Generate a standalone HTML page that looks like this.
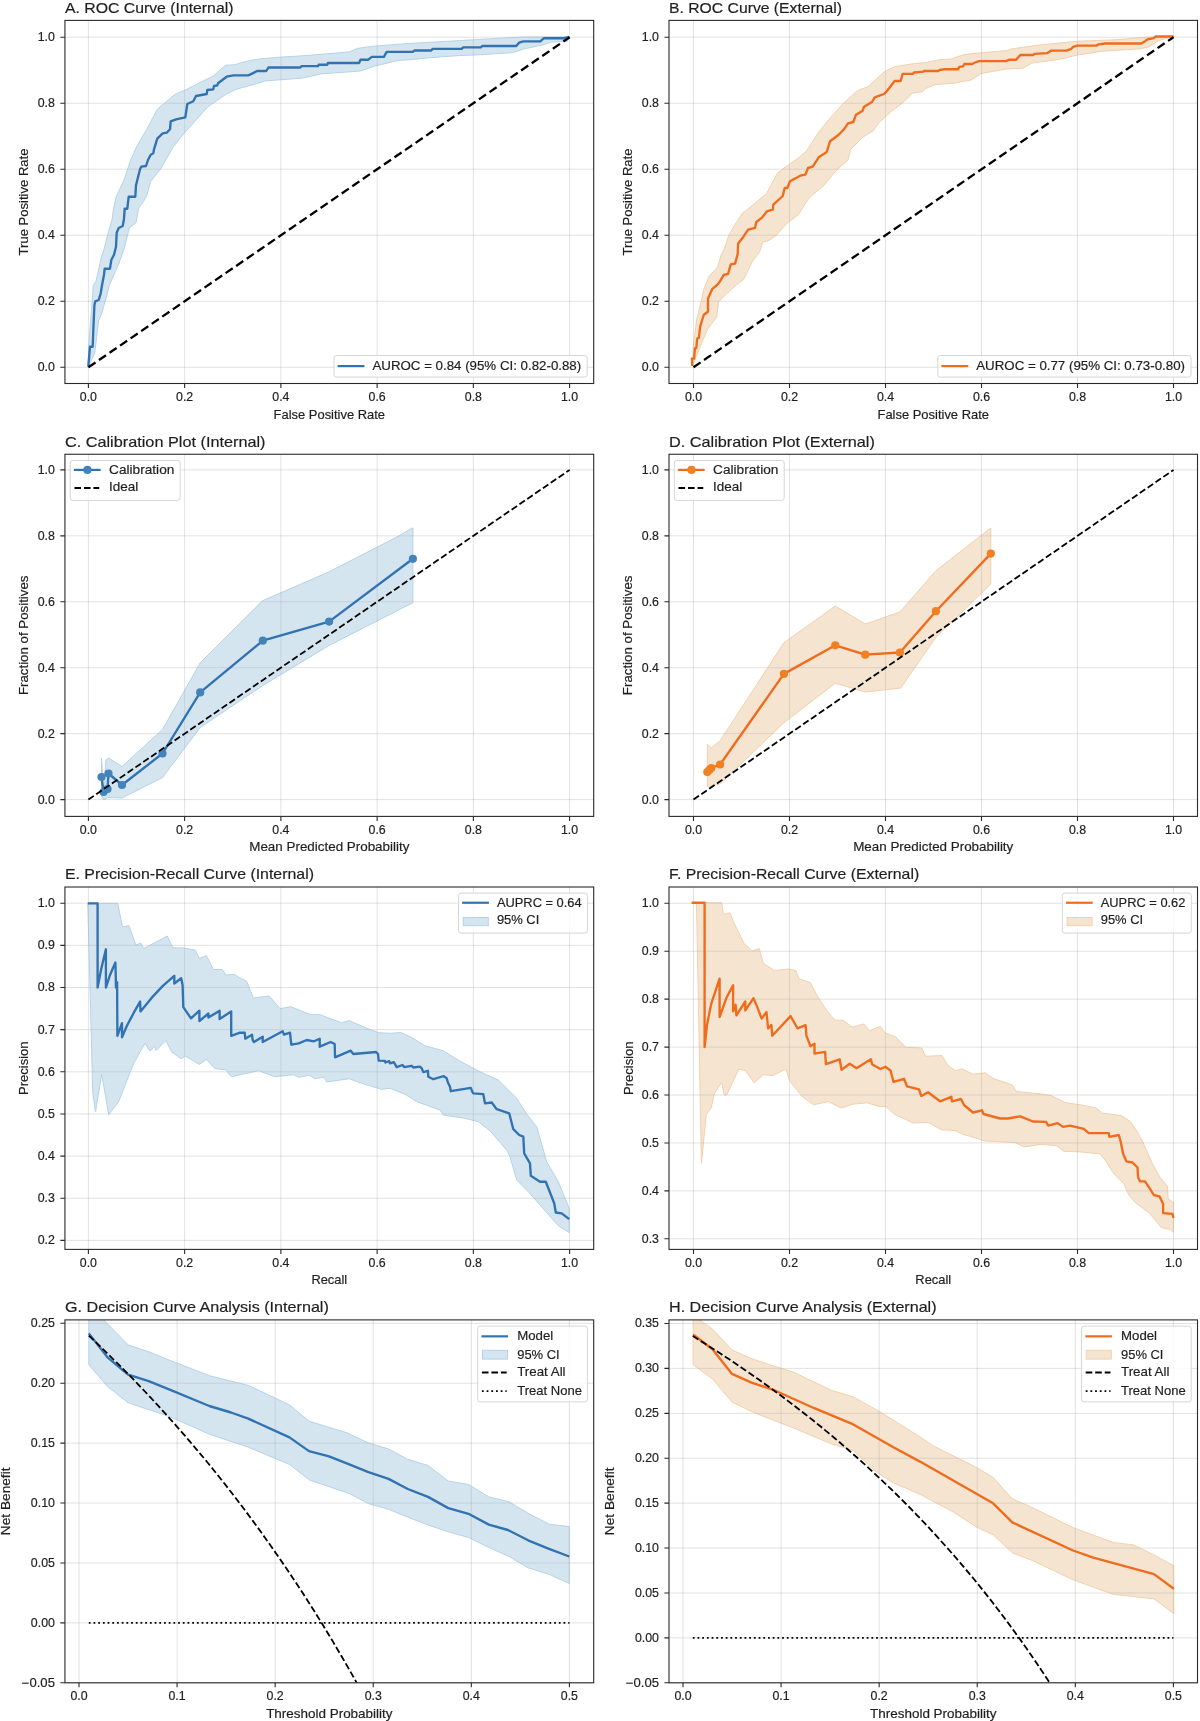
<!DOCTYPE html><html><head><meta charset="utf-8"><style>html,body{margin:0;padding:0;background:#fff;}svg{display:block;will-change:transform;}</style></head><body><svg width="1200" height="1721" viewBox="0 0 1200 1721" font-family="&quot;Liberation Sans&quot;, sans-serif">
<rect width="1200" height="1721" fill="#ffffff"/>
<clipPath id="cA"><rect x="64.94" y="20.4" width="528.76" height="363.1"/></clipPath>
<path d="M88.3,366.7L88.7,346.7L93.3,285.3L96.0,281.3L101.3,257.3L104.0,249.3L108.7,230.7L112.0,220.0L113.3,210.0L116.0,197.3L124.0,180.0L130.7,160.0L137.3,145.3L146.7,129.3L157.3,109.3L166.7,101.3L174.7,94.7L186.7,89.3L197.3,84.0L213.3,76.0L225.3,65.3L234.7,64.7L249.3,60.7L258.5,59.0L278.3,57.3L306.7,55.5L349.2,51.9L357.6,48.4L373.2,46.2L391.6,44.8L410.0,43.4L459.6,40.6L495.0,38.5L523.3,37.0L569.3,36.8L569.3,37.0L567.2,41.3L551.6,42.0L543.1,44.8L523.3,49.1L513.4,52.6L480.8,54.7L459.6,55.5L431.2,57.6L410.0,59.7L398.7,60.4L374.6,66.1L360.5,71.0L320.8,73.9L302.4,78.1L264.2,81.0L260.0,82.7L236.0,89.3L225.3,94.7L208.0,106.7L196.0,120.0L185.3,132.0L173.3,146.7L161.3,168.0L150.7,181.3L146.7,196.0L142.7,202.7L138.7,208.0L136.0,222.7L129.3,228.0L124.0,249.3L118.7,264.0L109.3,285.3L106.7,296.0L101.3,314.7L98.7,320.0L94.7,353.3L88.3,366.7Z" fill="#d4e5f0" stroke="#b4d3e8" stroke-width="1" stroke-linejoin="round" clip-path="url(#cA)"/>
<path d="M88.40,20.40V383.50M184.64,20.40V383.50M280.88,20.40V383.50M377.12,20.40V383.50M473.36,20.40V383.50M569.60,20.40V383.50M64.94,367.30H593.70M64.94,301.28H593.70M64.94,235.26H593.70M64.94,169.24H593.70M64.94,103.22H593.70M64.94,37.20H593.70" stroke="#b0b0b0" stroke-opacity="0.36" stroke-width="1" fill="none"/>
<path d="M88.3,366.7L90.0,346.7L92.7,346.7L93.3,330.7L94.4,305.3L95.3,301.3L98.7,300.0L100.7,293.3L102.0,285.3L104.0,274.7L104.7,268.7L110.0,268.7L111.3,260.0L114.0,254.7L116.0,246.7L116.7,232.7L118.7,228.0L122.7,226.0L124.0,218.7L124.7,208.7L127.3,208.7L128.7,196.7L135.3,196.7L136.0,185.3L140.0,169.3L141.3,166.7L146.0,166.0L148.0,160.0L150.7,154.7L153.3,153.3L154.0,149.3L157.3,138.7L162.7,133.3L166.7,132.7L170.0,129.3L170.7,121.3L176.0,119.3L185.3,117.3L187.3,104.0L193.3,101.3L196.0,96.0L206.7,94.0L207.3,90.0L213.3,89.3L214.0,86.0L217.3,85.3L218.0,83.3L226.7,76.7L233.3,75.3L248.0,75.3L250.0,74.6L257.1,71.0L266.3,71.0L268.4,67.5L300.3,67.5L301.7,66.1L318.0,66.1L318.7,64.7L327.2,64.7L327.9,63.0L359.1,63.0L360.5,59.7L368.3,59.7L371.8,56.9L383.9,56.9L386.7,51.9L412.9,51.9L414.3,50.5L431.2,50.5L432.7,48.8L461.7,48.8L463.1,47.4L480.8,47.4L482.2,46.0L516.2,46.0L519.1,42.7L523.3,41.3L540.3,41.3L543.9,38.2L564.4,38.2L569.3,37.0" fill="none" stroke="#3172b2" stroke-width="2.35" stroke-linejoin="round" clip-path="url(#cA)"/>
<path d="M88.4,367.3L569.6,37.2" fill="none" stroke="#000" stroke-width="2.3" stroke-linejoin="round" stroke-dasharray="8.6 4.2" clip-path="url(#cA)"/>
<rect x="64.94" y="20.40" width="528.76" height="363.10" fill="none" stroke="#2a2a2a" stroke-width="1.1"/>
<path d="M88.40,383.50V388.00M184.64,383.50V388.00M280.88,383.50V388.00M377.12,383.50V388.00M473.36,383.50V388.00M569.60,383.50V388.00M64.94,367.30H60.34M64.94,301.28H60.34M64.94,235.26H60.34M64.94,169.24H60.34M64.94,103.22H60.34M64.94,37.20H60.34" stroke="#2a2a2a" stroke-width="1.1" fill="none"/>
<text x="88.40" y="401.10" font-size="11.9" text-anchor="middle" textLength="17.18" lengthAdjust="spacingAndGlyphs" fill="#1f1f1f" stroke="#1f1f1f" stroke-width="0.18">0.0</text>
<text x="184.64" y="401.10" font-size="11.9" text-anchor="middle" textLength="17.18" lengthAdjust="spacingAndGlyphs" fill="#1f1f1f" stroke="#1f1f1f" stroke-width="0.18">0.2</text>
<text x="280.88" y="401.10" font-size="11.9" text-anchor="middle" textLength="17.18" lengthAdjust="spacingAndGlyphs" fill="#1f1f1f" stroke="#1f1f1f" stroke-width="0.18">0.4</text>
<text x="377.12" y="401.10" font-size="11.9" text-anchor="middle" textLength="17.18" lengthAdjust="spacingAndGlyphs" fill="#1f1f1f" stroke="#1f1f1f" stroke-width="0.18">0.6</text>
<text x="473.36" y="401.10" font-size="11.9" text-anchor="middle" textLength="17.18" lengthAdjust="spacingAndGlyphs" fill="#1f1f1f" stroke="#1f1f1f" stroke-width="0.18">0.8</text>
<text x="569.60" y="401.10" font-size="11.9" text-anchor="middle" textLength="17.18" lengthAdjust="spacingAndGlyphs" fill="#1f1f1f" stroke="#1f1f1f" stroke-width="0.18">1.0</text>
<text x="54.94" y="371.20" font-size="11.9" text-anchor="end" textLength="17.18" lengthAdjust="spacingAndGlyphs" fill="#1f1f1f" stroke="#1f1f1f" stroke-width="0.18">0.0</text>
<text x="54.94" y="305.18" font-size="11.9" text-anchor="end" textLength="17.18" lengthAdjust="spacingAndGlyphs" fill="#1f1f1f" stroke="#1f1f1f" stroke-width="0.18">0.2</text>
<text x="54.94" y="239.16" font-size="11.9" text-anchor="end" textLength="17.18" lengthAdjust="spacingAndGlyphs" fill="#1f1f1f" stroke="#1f1f1f" stroke-width="0.18">0.4</text>
<text x="54.94" y="173.14" font-size="11.9" text-anchor="end" textLength="17.18" lengthAdjust="spacingAndGlyphs" fill="#1f1f1f" stroke="#1f1f1f" stroke-width="0.18">0.6</text>
<text x="54.94" y="107.12" font-size="11.9" text-anchor="end" textLength="17.18" lengthAdjust="spacingAndGlyphs" fill="#1f1f1f" stroke="#1f1f1f" stroke-width="0.18">0.8</text>
<text x="54.94" y="41.10" font-size="11.9" text-anchor="end" textLength="17.18" lengthAdjust="spacingAndGlyphs" fill="#1f1f1f" stroke="#1f1f1f" stroke-width="0.18">1.0</text>
<text x="329.32" y="418.50" font-size="12.4" text-anchor="middle" textLength="111.53" lengthAdjust="spacingAndGlyphs" fill="#1f1f1f" stroke="#1f1f1f" stroke-width="0.18">False Positive Rate</text>
<text x="27.90" y="201.95" font-size="12.4" text-anchor="middle" textLength="106.90" lengthAdjust="spacingAndGlyphs" fill="#1f1f1f" stroke="#1f1f1f" stroke-width="0.18" transform="rotate(-90 27.90 201.95)">True Positive Rate</text>
<text x="64.94" y="12.80" font-size="14.8" text-anchor="start" textLength="168.52" lengthAdjust="spacingAndGlyphs" fill="#1f1f1f" stroke="#1f1f1f" stroke-width="0.18">A. ROC Curve (Internal)</text>
<rect x="334.03" y="355.50" width="253.17" height="21.60" rx="2.5" fill="#ffffff" fill-opacity="0.8" stroke="#d6d6d6" stroke-width="1"/>
<path d="M337.63,366.10H364.43" stroke="#3172b2" stroke-width="2.2"/>
<text x="372.43" y="369.90" font-size="12.4" text-anchor="start" textLength="208.77" lengthAdjust="spacingAndGlyphs" fill="#1f1f1f" stroke="#1f1f1f" stroke-width="0.18">AUROC = 0.84 (95% CI: 0.82-0.88)</text>
<clipPath id="cB"><rect x="669.0" y="20.4" width="528.5" height="363.1"/></clipPath>
<path d="M692.3,366.0L693.2,346.4L696.7,319.3L701.1,301.9L703.7,289.7L708.9,276.6L717.6,267.1L721.1,254.9L724.6,247.9L729.0,234.8L736.8,221.7L742.3,213.3L746.7,210.0L757.3,201.3L766.7,193.3L777.3,173.3L784.0,168.0L797.3,158.7L806.7,150.7L818.7,132.0L830.7,117.3L844.0,102.7L857.3,90.7L868.0,86.7L884.0,72.0L894.2,66.8L911.2,64.0L925.4,62.5L939.6,59.7L950.9,59.0L963.7,54.7L975.0,53.3L1007.6,50.5L1010.4,49.1L1024.6,47.0L1040.0,45.0L1077.5,41.2L1115.0,39.8L1146.3,37.2L1173.5,36.5L1173.5,36.5L1165.0,38.8L1158.8,40.6L1148.8,46.9L1140.0,48.8L1102.5,51.2L1077.5,55.0L1058.8,59.4L1040.0,61.9L1031.6,63.2L1023.1,68.2L1007.6,68.9L986.3,72.5L980.7,73.9L970.7,80.2L960.8,81.7L955.2,83.1L935.3,84.5L925.4,88.7L922.6,91.6L912.7,93.0L904.2,101.5L890.7,112.0L878.7,122.7L873.3,130.7L862.7,137.3L850.7,149.3L848.0,160.0L836.0,170.7L824.0,185.3L812.0,195.3L807.7,200.0L798.3,214.7L786.3,224.0L775.7,236.0L768.0,240.9L762.9,241.8L759.5,252.2L752.5,261.0L743.8,279.3L736.8,284.5L726.3,294.1L718.5,301.9L716.8,316.7L707.2,329.8L697.6,353.3L692.3,366.0Z" fill="#f5e4d0" stroke="#f2d0ad" stroke-width="1" stroke-linejoin="round" clip-path="url(#cB)"/>
<path d="M693.50,20.40V383.50M789.50,20.40V383.50M885.50,20.40V383.50M981.50,20.40V383.50M1077.50,20.40V383.50M1173.50,20.40V383.50M669.00,367.30H1197.50M669.00,301.28H1197.50M669.00,235.26H1197.50M669.00,169.24H1197.50M669.00,103.22H1197.50M669.00,37.20H1197.50" stroke="#b0b0b0" stroke-opacity="0.36" stroke-width="1" fill="none"/>
<path d="M692.3,366.0L691.9,358.6L694.1,358.6L695.0,348.1L696.3,348.1L697.2,338.5L698.9,337.6L700.2,326.3L703.7,315.0L708.0,311.5L708.0,298.4L712.4,288.8L717.6,284.5L719.4,282.3L723.7,274.9L728.1,274.0L730.7,264.4L735.1,263.6L737.7,254.0L738.1,243.5L742.9,237.4L748.1,229.6L755.1,227.8L756.3,222.0L762.3,217.3L767.0,211.3L773.0,209.3L773.3,204.7L782.7,196.0L784.7,188.0L787.3,188.0L790.0,181.3L796.0,178.0L801.3,175.3L805.3,174.7L808.0,168.0L812.7,166.7L818.7,157.3L826.7,152.0L830.0,141.3L838.7,134.7L844.0,129.3L848.0,123.3L853.3,122.0L856.0,114.7L862.7,110.7L864.0,106.7L872.0,102.0L874.7,97.3L884.0,94.0L886.7,91.3L894.7,81.0L900.6,81.0L902.7,73.9L912.7,73.9L914.1,72.5L923.3,71.7L924.0,71.0L938.2,71.0L939.6,70.0L945.2,69.2L958.0,69.2L959.4,66.8L962.9,66.4L964.4,64.0L972.2,64.0L975.0,62.5L979.2,61.1L1006.1,61.1L1008.9,59.7L1016.1,59.7L1020.3,55.0L1033.1,55.0L1034.5,53.8L1043.0,53.3L1047.5,53.1L1051.3,50.6L1066.3,50.6L1071.3,48.8L1073.1,46.9L1077.5,45.6L1096.3,45.6L1098.8,44.4L1105.0,43.5L1141.3,43.5L1145.0,41.2L1147.5,39.4L1153.8,38.1L1155.6,36.5L1173.5,36.5" fill="none" stroke="#f06b1c" stroke-width="2.35" stroke-linejoin="round" clip-path="url(#cB)"/>
<path d="M693.5,367.3L1173.5,37.2" fill="none" stroke="#000" stroke-width="2.3" stroke-linejoin="round" stroke-dasharray="8.6 4.2" clip-path="url(#cB)"/>
<rect x="669.00" y="20.40" width="528.50" height="363.10" fill="none" stroke="#2a2a2a" stroke-width="1.1"/>
<path d="M693.50,383.50V388.00M789.50,383.50V388.00M885.50,383.50V388.00M981.50,383.50V388.00M1077.50,383.50V388.00M1173.50,383.50V388.00M669.00,367.30H664.40M669.00,301.28H664.40M669.00,235.26H664.40M669.00,169.24H664.40M669.00,103.22H664.40M669.00,37.20H664.40" stroke="#2a2a2a" stroke-width="1.1" fill="none"/>
<text x="693.50" y="401.10" font-size="11.9" text-anchor="middle" textLength="17.18" lengthAdjust="spacingAndGlyphs" fill="#1f1f1f" stroke="#1f1f1f" stroke-width="0.18">0.0</text>
<text x="789.50" y="401.10" font-size="11.9" text-anchor="middle" textLength="17.18" lengthAdjust="spacingAndGlyphs" fill="#1f1f1f" stroke="#1f1f1f" stroke-width="0.18">0.2</text>
<text x="885.50" y="401.10" font-size="11.9" text-anchor="middle" textLength="17.18" lengthAdjust="spacingAndGlyphs" fill="#1f1f1f" stroke="#1f1f1f" stroke-width="0.18">0.4</text>
<text x="981.50" y="401.10" font-size="11.9" text-anchor="middle" textLength="17.18" lengthAdjust="spacingAndGlyphs" fill="#1f1f1f" stroke="#1f1f1f" stroke-width="0.18">0.6</text>
<text x="1077.50" y="401.10" font-size="11.9" text-anchor="middle" textLength="17.18" lengthAdjust="spacingAndGlyphs" fill="#1f1f1f" stroke="#1f1f1f" stroke-width="0.18">0.8</text>
<text x="1173.50" y="401.10" font-size="11.9" text-anchor="middle" textLength="17.18" lengthAdjust="spacingAndGlyphs" fill="#1f1f1f" stroke="#1f1f1f" stroke-width="0.18">1.0</text>
<text x="659.00" y="371.20" font-size="11.9" text-anchor="end" textLength="17.18" lengthAdjust="spacingAndGlyphs" fill="#1f1f1f" stroke="#1f1f1f" stroke-width="0.18">0.0</text>
<text x="659.00" y="305.18" font-size="11.9" text-anchor="end" textLength="17.18" lengthAdjust="spacingAndGlyphs" fill="#1f1f1f" stroke="#1f1f1f" stroke-width="0.18">0.2</text>
<text x="659.00" y="239.16" font-size="11.9" text-anchor="end" textLength="17.18" lengthAdjust="spacingAndGlyphs" fill="#1f1f1f" stroke="#1f1f1f" stroke-width="0.18">0.4</text>
<text x="659.00" y="173.14" font-size="11.9" text-anchor="end" textLength="17.18" lengthAdjust="spacingAndGlyphs" fill="#1f1f1f" stroke="#1f1f1f" stroke-width="0.18">0.6</text>
<text x="659.00" y="107.12" font-size="11.9" text-anchor="end" textLength="17.18" lengthAdjust="spacingAndGlyphs" fill="#1f1f1f" stroke="#1f1f1f" stroke-width="0.18">0.8</text>
<text x="659.00" y="41.10" font-size="11.9" text-anchor="end" textLength="17.18" lengthAdjust="spacingAndGlyphs" fill="#1f1f1f" stroke="#1f1f1f" stroke-width="0.18">1.0</text>
<text x="933.25" y="418.50" font-size="12.4" text-anchor="middle" textLength="111.53" lengthAdjust="spacingAndGlyphs" fill="#1f1f1f" stroke="#1f1f1f" stroke-width="0.18">False Positive Rate</text>
<text x="632.20" y="201.95" font-size="12.4" text-anchor="middle" textLength="106.90" lengthAdjust="spacingAndGlyphs" fill="#1f1f1f" stroke="#1f1f1f" stroke-width="0.18" transform="rotate(-90 632.20 201.95)">True Positive Rate</text>
<text x="669.00" y="12.80" font-size="14.8" text-anchor="start" textLength="173.05" lengthAdjust="spacingAndGlyphs" fill="#1f1f1f" stroke="#1f1f1f" stroke-width="0.18">B. ROC Curve (External)</text>
<rect x="937.83" y="355.50" width="253.17" height="21.60" rx="2.5" fill="#ffffff" fill-opacity="0.8" stroke="#d6d6d6" stroke-width="1"/>
<path d="M941.43,366.10H968.23" stroke="#f06b1c" stroke-width="2.2"/>
<text x="976.23" y="369.90" font-size="12.4" text-anchor="start" textLength="208.77" lengthAdjust="spacingAndGlyphs" fill="#1f1f1f" stroke="#1f1f1f" stroke-width="0.18">AUROC = 0.77 (95% CI: 0.73-0.80)</text>
<clipPath id="cC"><rect x="64.94" y="454.25" width="528.76" height="362.15"/></clipPath>
<path d="M101.5,758.5L103.5,790.0L106.0,760.0L108.5,758.0L122.0,766.5L162.5,729.5L200.2,662.8L262.8,600.6L329.1,571.8L396.7,537.1L412.9,527.8L412.9,602.7L329.1,645.4L262.8,685.5L200.2,727.5L162.5,777.5L122.0,798.0L108.0,797.5L103.8,800.0L101.5,796.0Z" fill="#d4e5f0" stroke="#b4d3e8" stroke-width="1" stroke-linejoin="round" clip-path="url(#cC)"/>
<path d="M88.40,454.25V816.40M184.64,454.25V816.40M280.88,454.25V816.40M377.12,454.25V816.40M473.36,454.25V816.40M569.60,454.25V816.40M64.94,799.60H593.70M64.94,733.66H593.70M64.94,667.72H593.70M64.94,601.78H593.70M64.94,535.84H593.70M64.94,469.90H593.70" stroke="#b0b0b0" stroke-opacity="0.36" stroke-width="1" fill="none"/>
<path d="M101.5,777.0L103.5,792.0L107.5,789.0L108.5,773.5L122.0,785.0L162.5,753.5L200.2,692.4L262.8,640.7L329.1,621.6L412.9,558.8" fill="none" stroke="#3172b2" stroke-width="2.35" stroke-linejoin="round" clip-path="url(#cC)"/>
<circle cx="101.5" cy="777.0" r="4.1" fill="#4383b9"/>
<circle cx="103.5" cy="792.0" r="4.1" fill="#4383b9"/>
<circle cx="107.5" cy="789.0" r="4.1" fill="#4383b9"/>
<circle cx="108.5" cy="773.5" r="4.1" fill="#4383b9"/>
<circle cx="122.0" cy="785.0" r="4.1" fill="#4383b9"/>
<circle cx="162.5" cy="753.5" r="4.1" fill="#4383b9"/>
<circle cx="200.2" cy="692.4" r="4.1" fill="#4383b9"/>
<circle cx="262.8" cy="640.7" r="4.1" fill="#4383b9"/>
<circle cx="329.1" cy="621.6" r="4.1" fill="#4383b9"/>
<circle cx="412.9" cy="558.8" r="4.1" fill="#4383b9"/>
<path d="M88.4,799.6L569.6,469.9" fill="none" stroke="#000" stroke-width="1.8" stroke-linejoin="round" stroke-dasharray="6.6 2.9" clip-path="url(#cC)"/>
<rect x="64.94" y="454.25" width="528.76" height="362.15" fill="none" stroke="#2a2a2a" stroke-width="1.1"/>
<path d="M88.40,816.40V820.90M184.64,816.40V820.90M280.88,816.40V820.90M377.12,816.40V820.90M473.36,816.40V820.90M569.60,816.40V820.90M64.94,799.60H60.34M64.94,733.66H60.34M64.94,667.72H60.34M64.94,601.78H60.34M64.94,535.84H60.34M64.94,469.90H60.34" stroke="#2a2a2a" stroke-width="1.1" fill="none"/>
<text x="88.40" y="834.00" font-size="11.9" text-anchor="middle" textLength="17.18" lengthAdjust="spacingAndGlyphs" fill="#1f1f1f" stroke="#1f1f1f" stroke-width="0.18">0.0</text>
<text x="184.64" y="834.00" font-size="11.9" text-anchor="middle" textLength="17.18" lengthAdjust="spacingAndGlyphs" fill="#1f1f1f" stroke="#1f1f1f" stroke-width="0.18">0.2</text>
<text x="280.88" y="834.00" font-size="11.9" text-anchor="middle" textLength="17.18" lengthAdjust="spacingAndGlyphs" fill="#1f1f1f" stroke="#1f1f1f" stroke-width="0.18">0.4</text>
<text x="377.12" y="834.00" font-size="11.9" text-anchor="middle" textLength="17.18" lengthAdjust="spacingAndGlyphs" fill="#1f1f1f" stroke="#1f1f1f" stroke-width="0.18">0.6</text>
<text x="473.36" y="834.00" font-size="11.9" text-anchor="middle" textLength="17.18" lengthAdjust="spacingAndGlyphs" fill="#1f1f1f" stroke="#1f1f1f" stroke-width="0.18">0.8</text>
<text x="569.60" y="834.00" font-size="11.9" text-anchor="middle" textLength="17.18" lengthAdjust="spacingAndGlyphs" fill="#1f1f1f" stroke="#1f1f1f" stroke-width="0.18">1.0</text>
<text x="54.94" y="803.50" font-size="11.9" text-anchor="end" textLength="17.18" lengthAdjust="spacingAndGlyphs" fill="#1f1f1f" stroke="#1f1f1f" stroke-width="0.18">0.0</text>
<text x="54.94" y="737.56" font-size="11.9" text-anchor="end" textLength="17.18" lengthAdjust="spacingAndGlyphs" fill="#1f1f1f" stroke="#1f1f1f" stroke-width="0.18">0.2</text>
<text x="54.94" y="671.62" font-size="11.9" text-anchor="end" textLength="17.18" lengthAdjust="spacingAndGlyphs" fill="#1f1f1f" stroke="#1f1f1f" stroke-width="0.18">0.4</text>
<text x="54.94" y="605.68" font-size="11.9" text-anchor="end" textLength="17.18" lengthAdjust="spacingAndGlyphs" fill="#1f1f1f" stroke="#1f1f1f" stroke-width="0.18">0.6</text>
<text x="54.94" y="539.74" font-size="11.9" text-anchor="end" textLength="17.18" lengthAdjust="spacingAndGlyphs" fill="#1f1f1f" stroke="#1f1f1f" stroke-width="0.18">0.8</text>
<text x="54.94" y="473.80" font-size="11.9" text-anchor="end" textLength="17.18" lengthAdjust="spacingAndGlyphs" fill="#1f1f1f" stroke="#1f1f1f" stroke-width="0.18">1.0</text>
<text x="329.32" y="851.40" font-size="12.4" text-anchor="middle" textLength="160.09" lengthAdjust="spacingAndGlyphs" fill="#1f1f1f" stroke="#1f1f1f" stroke-width="0.18">Mean Predicted Probability</text>
<text x="27.90" y="635.33" font-size="12.4" text-anchor="middle" textLength="119.61" lengthAdjust="spacingAndGlyphs" fill="#1f1f1f" stroke="#1f1f1f" stroke-width="0.18" transform="rotate(-90 27.90 635.33)">Fraction of Positives</text>
<text x="64.94" y="446.65" font-size="14.8" text-anchor="start" textLength="200.59" lengthAdjust="spacingAndGlyphs" fill="#1f1f1f" stroke="#1f1f1f" stroke-width="0.18">C. Calibration Plot (Internal)</text>
<rect x="70.24" y="460.50" width="109.90" height="39.90" rx="2.5" fill="#ffffff" fill-opacity="0.8" stroke="#d6d6d6" stroke-width="1"/>
<path d="M73.84,469.90H100.64" stroke="#3172b2" stroke-width="2.2"/>
<circle cx="87.44" cy="469.90" r="4.1" fill="#4383b9"/>
<text x="109.04" y="473.70" font-size="12.4" text-anchor="start" textLength="65.29" lengthAdjust="spacingAndGlyphs" fill="#1f1f1f" stroke="#1f1f1f" stroke-width="0.18">Calibration</text>
<path d="M74.44,488.00H99.24" stroke="#000" stroke-width="1.8" stroke-dasharray="6.6 2.9"/>
<text x="109.04" y="491.40" font-size="12.4" text-anchor="start" textLength="29.23" lengthAdjust="spacingAndGlyphs" fill="#1f1f1f" stroke="#1f1f1f" stroke-width="0.18">Ideal</text>
<clipPath id="cD"><rect x="669.0" y="454.25" width="528.5" height="362.15"/></clipPath>
<path d="M707.3,744.0L711.3,748.0L720.1,740.8L783.9,642.7L835.3,606.1L865.2,624.0L899.9,612.0L935.9,570.7L990.8,528.0L990.8,584.0L935.9,637.3L900.7,688.0L865.2,692.0L835.3,683.2L783.9,722.7L720.1,784.0L707.3,786.7Z" fill="#f5e4d0" stroke="#f2d0ad" stroke-width="1" stroke-linejoin="round" clip-path="url(#cD)"/>
<path d="M693.50,454.25V816.40M789.50,454.25V816.40M885.50,454.25V816.40M981.50,454.25V816.40M1077.50,454.25V816.40M1173.50,454.25V816.40M669.00,799.60H1197.50M669.00,733.66H1197.50M669.00,667.72H1197.50M669.00,601.78H1197.50M669.00,535.84H1197.50M669.00,469.90H1197.50" stroke="#b0b0b0" stroke-opacity="0.36" stroke-width="1" fill="none"/>
<path d="M707.3,772.0L709.3,770.0L711.3,768.0L720.1,764.5L783.9,673.9L835.3,645.3L865.2,654.7L899.9,652.5L935.9,611.2L990.8,553.6" fill="none" stroke="#f06b1c" stroke-width="2.35" stroke-linejoin="round" clip-path="url(#cD)"/>
<circle cx="707.3" cy="772.0" r="4.1" fill="#f08022"/>
<circle cx="709.3" cy="770.0" r="4.1" fill="#f08022"/>
<circle cx="711.3" cy="768.0" r="4.1" fill="#f08022"/>
<circle cx="720.1" cy="764.5" r="4.1" fill="#f08022"/>
<circle cx="783.9" cy="673.9" r="4.1" fill="#f08022"/>
<circle cx="835.3" cy="645.3" r="4.1" fill="#f08022"/>
<circle cx="865.2" cy="654.7" r="4.1" fill="#f08022"/>
<circle cx="899.9" cy="652.5" r="4.1" fill="#f08022"/>
<circle cx="935.9" cy="611.2" r="4.1" fill="#f08022"/>
<circle cx="990.8" cy="553.6" r="4.1" fill="#f08022"/>
<path d="M693.5,799.6L1173.5,469.9" fill="none" stroke="#000" stroke-width="1.8" stroke-linejoin="round" stroke-dasharray="6.6 2.9" clip-path="url(#cD)"/>
<rect x="669.00" y="454.25" width="528.50" height="362.15" fill="none" stroke="#2a2a2a" stroke-width="1.1"/>
<path d="M693.50,816.40V820.90M789.50,816.40V820.90M885.50,816.40V820.90M981.50,816.40V820.90M1077.50,816.40V820.90M1173.50,816.40V820.90M669.00,799.60H664.40M669.00,733.66H664.40M669.00,667.72H664.40M669.00,601.78H664.40M669.00,535.84H664.40M669.00,469.90H664.40" stroke="#2a2a2a" stroke-width="1.1" fill="none"/>
<text x="693.50" y="834.00" font-size="11.9" text-anchor="middle" textLength="17.18" lengthAdjust="spacingAndGlyphs" fill="#1f1f1f" stroke="#1f1f1f" stroke-width="0.18">0.0</text>
<text x="789.50" y="834.00" font-size="11.9" text-anchor="middle" textLength="17.18" lengthAdjust="spacingAndGlyphs" fill="#1f1f1f" stroke="#1f1f1f" stroke-width="0.18">0.2</text>
<text x="885.50" y="834.00" font-size="11.9" text-anchor="middle" textLength="17.18" lengthAdjust="spacingAndGlyphs" fill="#1f1f1f" stroke="#1f1f1f" stroke-width="0.18">0.4</text>
<text x="981.50" y="834.00" font-size="11.9" text-anchor="middle" textLength="17.18" lengthAdjust="spacingAndGlyphs" fill="#1f1f1f" stroke="#1f1f1f" stroke-width="0.18">0.6</text>
<text x="1077.50" y="834.00" font-size="11.9" text-anchor="middle" textLength="17.18" lengthAdjust="spacingAndGlyphs" fill="#1f1f1f" stroke="#1f1f1f" stroke-width="0.18">0.8</text>
<text x="1173.50" y="834.00" font-size="11.9" text-anchor="middle" textLength="17.18" lengthAdjust="spacingAndGlyphs" fill="#1f1f1f" stroke="#1f1f1f" stroke-width="0.18">1.0</text>
<text x="659.00" y="803.50" font-size="11.9" text-anchor="end" textLength="17.18" lengthAdjust="spacingAndGlyphs" fill="#1f1f1f" stroke="#1f1f1f" stroke-width="0.18">0.0</text>
<text x="659.00" y="737.56" font-size="11.9" text-anchor="end" textLength="17.18" lengthAdjust="spacingAndGlyphs" fill="#1f1f1f" stroke="#1f1f1f" stroke-width="0.18">0.2</text>
<text x="659.00" y="671.62" font-size="11.9" text-anchor="end" textLength="17.18" lengthAdjust="spacingAndGlyphs" fill="#1f1f1f" stroke="#1f1f1f" stroke-width="0.18">0.4</text>
<text x="659.00" y="605.68" font-size="11.9" text-anchor="end" textLength="17.18" lengthAdjust="spacingAndGlyphs" fill="#1f1f1f" stroke="#1f1f1f" stroke-width="0.18">0.6</text>
<text x="659.00" y="539.74" font-size="11.9" text-anchor="end" textLength="17.18" lengthAdjust="spacingAndGlyphs" fill="#1f1f1f" stroke="#1f1f1f" stroke-width="0.18">0.8</text>
<text x="659.00" y="473.80" font-size="11.9" text-anchor="end" textLength="17.18" lengthAdjust="spacingAndGlyphs" fill="#1f1f1f" stroke="#1f1f1f" stroke-width="0.18">1.0</text>
<text x="933.25" y="851.40" font-size="12.4" text-anchor="middle" textLength="160.09" lengthAdjust="spacingAndGlyphs" fill="#1f1f1f" stroke="#1f1f1f" stroke-width="0.18">Mean Predicted Probability</text>
<text x="632.20" y="635.33" font-size="12.4" text-anchor="middle" textLength="119.61" lengthAdjust="spacingAndGlyphs" fill="#1f1f1f" stroke="#1f1f1f" stroke-width="0.18" transform="rotate(-90 632.20 635.33)">Fraction of Positives</text>
<text x="669.00" y="446.65" font-size="14.8" text-anchor="start" textLength="205.87" lengthAdjust="spacingAndGlyphs" fill="#1f1f1f" stroke="#1f1f1f" stroke-width="0.18">D. Calibration Plot (External)</text>
<rect x="674.30" y="460.50" width="109.90" height="39.90" rx="2.5" fill="#ffffff" fill-opacity="0.8" stroke="#d6d6d6" stroke-width="1"/>
<path d="M677.90,469.90H704.70" stroke="#f06b1c" stroke-width="2.2"/>
<circle cx="691.50" cy="469.90" r="4.1" fill="#f08022"/>
<text x="713.10" y="473.70" font-size="12.4" text-anchor="start" textLength="65.29" lengthAdjust="spacingAndGlyphs" fill="#1f1f1f" stroke="#1f1f1f" stroke-width="0.18">Calibration</text>
<path d="M678.50,488.00H703.30" stroke="#000" stroke-width="1.8" stroke-dasharray="6.6 2.9"/>
<text x="713.10" y="491.40" font-size="12.4" text-anchor="start" textLength="29.23" lengthAdjust="spacingAndGlyphs" fill="#1f1f1f" stroke="#1f1f1f" stroke-width="0.18">Ideal</text>
<clipPath id="cE"><rect x="64.94" y="887.0" width="528.76" height="362.4000000000001"/></clipPath>
<path d="M87.8,903.3L117.8,903.3L122.4,927.0L128.9,925.6L135.9,945.1L140.8,943.0L143.6,948.6L167.3,936.0L172.9,947.9L182.6,947.9L195.2,950.0L199.4,958.4L206.4,955.6L213.3,969.5L222.4,969.5L225.9,975.1L234.3,974.4L240.0,978.0L246.7,981.3L253.3,998.0L269.3,996.0L280.0,1008.7L290.7,1006.7L310.7,1014.7L320.0,1014.7L341.3,1022.7L349.3,1020.7L368.0,1028.7L378.7,1032.7L390.0,1033.3L400.8,1032.5L411.7,1037.5L425.0,1045.8L443.3,1050.8L456.7,1059.2L473.3,1068.3L485.0,1074.2L498.3,1080.0L516.7,1098.3L526.7,1114.2L536.7,1126.7L546.7,1161.7L558.3,1181.7L569.2,1208.3L569.2,1232.5L558.3,1225.8L540.0,1205.0L528.3,1191.7L516.7,1180.0L510.0,1156.7L506.7,1150.0L490.0,1130.8L478.3,1121.7L465.0,1118.3L443.3,1115.0L440.0,1110.0L416.7,1101.7L405.0,1094.2L390.0,1088.3L381.3,1089.3L360.0,1082.7L349.3,1078.7L326.7,1082.0L324.0,1077.3L314.7,1078.7L309.3,1075.3L298.7,1077.3L293.3,1074.7L274.7,1076.7L258.7,1070.7L240.0,1074.7L231.5,1076.9L225.9,1069.9L214.7,1068.5L206.4,1059.5L199.4,1064.4L185.4,1056.0L181.2,1058.8L171.5,1051.8L165.9,1040.6L156.1,1050.4L154.7,1046.2L149.9,1051.1L145.0,1043.4L133.8,1063.0L118.5,1102.0L108.7,1114.6L101.7,1074.1L95.5,1111.8L92.7,1092.3L87.8,903.3Z" fill="#d4e5f0" stroke="#b4d3e8" stroke-width="1" stroke-linejoin="round" clip-path="url(#cE)"/>
<path d="M88.40,887.00V1249.40M184.64,887.00V1249.40M280.88,887.00V1249.40M377.12,887.00V1249.40M473.36,887.00V1249.40M569.60,887.00V1249.40M64.94,1240.40H593.70M64.94,1198.25H593.70M64.94,1156.10H593.70M64.94,1113.95H593.70M64.94,1071.80H593.70M64.94,1029.65H593.70M64.94,987.50H593.70M64.94,945.35H593.70M64.94,903.20H593.70" stroke="#b0b0b0" stroke-opacity="0.36" stroke-width="1" fill="none"/>
<path d="M87.8,903.3L97.6,903.3L97.6,987.6L101.0,970.0L105.9,949.3L105.9,987.6L110.0,975.0L115.4,962.5L116.0,987.6L117.1,982.1L117.4,1035.8L122.0,1023.2L122.0,1037.2L126.8,1026.0L133.8,1012.7L140.1,1001.6L140.5,1011.4L152.0,997.4L163.1,985.6L174.3,975.8L174.3,983.5L181.2,978.2L182.6,984.9L183.3,1007.2L191.0,1018.3L199.4,1010.7L199.4,1021.1L208.4,1013.5L208.4,1017.6L219.6,1010.7L219.6,1019.0L231.2,1011.4L231.2,1035.8L240.0,1032.7L244.7,1032.7L245.3,1038.7L252.0,1034.7L252.7,1040.0L254.0,1042.0L262.7,1036.7L262.7,1042.0L282.7,1031.3L284.0,1034.7L290.0,1032.7L291.3,1044.7L298.7,1043.3L306.7,1040.0L314.0,1041.3L319.7,1038.7L319.7,1046.7L330.7,1042.0L334.7,1044.0L335.0,1057.3L350.7,1050.7L353.3,1054.0L376.0,1052.0L378.0,1054.0L378.7,1060.7L385.0,1060.8L385.4,1062.5L389.2,1061.2L390.0,1063.3L393.8,1062.1L396.7,1067.1L402.5,1065.0L404.2,1067.1L411.7,1065.8L413.3,1067.5L420.0,1066.7L421.7,1068.3L423.3,1072.1L427.9,1070.8L428.3,1076.7L433.3,1079.2L443.8,1076.2L446.7,1078.3L447.9,1082.5L450.0,1086.7L450.8,1091.2L470.8,1087.9L472.5,1092.1L473.3,1093.3L483.3,1094.2L485.0,1103.3L491.7,1102.5L496.7,1109.2L509.2,1113.3L513.3,1129.2L519.2,1135.0L523.3,1136.7L524.2,1153.3L530.0,1163.3L530.8,1175.8L540.0,1181.7L545.8,1181.7L554.2,1203.3L555.8,1212.5L561.7,1213.3L569.2,1219.2" fill="none" stroke="#3172b2" stroke-width="2.35" stroke-linejoin="round" clip-path="url(#cE)"/>
<rect x="64.94" y="887.00" width="528.76" height="362.40" fill="none" stroke="#2a2a2a" stroke-width="1.1"/>
<path d="M88.40,1249.40V1253.90M184.64,1249.40V1253.90M280.88,1249.40V1253.90M377.12,1249.40V1253.90M473.36,1249.40V1253.90M569.60,1249.40V1253.90M64.94,1240.40H60.34M64.94,1198.25H60.34M64.94,1156.10H60.34M64.94,1113.95H60.34M64.94,1071.80H60.34M64.94,1029.65H60.34M64.94,987.50H60.34M64.94,945.35H60.34M64.94,903.20H60.34" stroke="#2a2a2a" stroke-width="1.1" fill="none"/>
<text x="88.40" y="1267.00" font-size="11.9" text-anchor="middle" textLength="17.18" lengthAdjust="spacingAndGlyphs" fill="#1f1f1f" stroke="#1f1f1f" stroke-width="0.18">0.0</text>
<text x="184.64" y="1267.00" font-size="11.9" text-anchor="middle" textLength="17.18" lengthAdjust="spacingAndGlyphs" fill="#1f1f1f" stroke="#1f1f1f" stroke-width="0.18">0.2</text>
<text x="280.88" y="1267.00" font-size="11.9" text-anchor="middle" textLength="17.18" lengthAdjust="spacingAndGlyphs" fill="#1f1f1f" stroke="#1f1f1f" stroke-width="0.18">0.4</text>
<text x="377.12" y="1267.00" font-size="11.9" text-anchor="middle" textLength="17.18" lengthAdjust="spacingAndGlyphs" fill="#1f1f1f" stroke="#1f1f1f" stroke-width="0.18">0.6</text>
<text x="473.36" y="1267.00" font-size="11.9" text-anchor="middle" textLength="17.18" lengthAdjust="spacingAndGlyphs" fill="#1f1f1f" stroke="#1f1f1f" stroke-width="0.18">0.8</text>
<text x="569.60" y="1267.00" font-size="11.9" text-anchor="middle" textLength="17.18" lengthAdjust="spacingAndGlyphs" fill="#1f1f1f" stroke="#1f1f1f" stroke-width="0.18">1.0</text>
<text x="54.94" y="1244.30" font-size="11.9" text-anchor="end" textLength="17.18" lengthAdjust="spacingAndGlyphs" fill="#1f1f1f" stroke="#1f1f1f" stroke-width="0.18">0.2</text>
<text x="54.94" y="1202.15" font-size="11.9" text-anchor="end" textLength="17.18" lengthAdjust="spacingAndGlyphs" fill="#1f1f1f" stroke="#1f1f1f" stroke-width="0.18">0.3</text>
<text x="54.94" y="1160.00" font-size="11.9" text-anchor="end" textLength="17.18" lengthAdjust="spacingAndGlyphs" fill="#1f1f1f" stroke="#1f1f1f" stroke-width="0.18">0.4</text>
<text x="54.94" y="1117.85" font-size="11.9" text-anchor="end" textLength="17.18" lengthAdjust="spacingAndGlyphs" fill="#1f1f1f" stroke="#1f1f1f" stroke-width="0.18">0.5</text>
<text x="54.94" y="1075.70" font-size="11.9" text-anchor="end" textLength="17.18" lengthAdjust="spacingAndGlyphs" fill="#1f1f1f" stroke="#1f1f1f" stroke-width="0.18">0.6</text>
<text x="54.94" y="1033.55" font-size="11.9" text-anchor="end" textLength="17.18" lengthAdjust="spacingAndGlyphs" fill="#1f1f1f" stroke="#1f1f1f" stroke-width="0.18">0.7</text>
<text x="54.94" y="991.40" font-size="11.9" text-anchor="end" textLength="17.18" lengthAdjust="spacingAndGlyphs" fill="#1f1f1f" stroke="#1f1f1f" stroke-width="0.18">0.8</text>
<text x="54.94" y="949.25" font-size="11.9" text-anchor="end" textLength="17.18" lengthAdjust="spacingAndGlyphs" fill="#1f1f1f" stroke="#1f1f1f" stroke-width="0.18">0.9</text>
<text x="54.94" y="907.10" font-size="11.9" text-anchor="end" textLength="17.18" lengthAdjust="spacingAndGlyphs" fill="#1f1f1f" stroke="#1f1f1f" stroke-width="0.18">1.0</text>
<text x="329.32" y="1284.40" font-size="12.4" text-anchor="middle" textLength="35.80" lengthAdjust="spacingAndGlyphs" fill="#1f1f1f" stroke="#1f1f1f" stroke-width="0.18">Recall</text>
<text x="28.50" y="1068.20" font-size="12.4" text-anchor="middle" textLength="53.54" lengthAdjust="spacingAndGlyphs" fill="#1f1f1f" stroke="#1f1f1f" stroke-width="0.18" transform="rotate(-90 28.50 1068.20)">Precision</text>
<text x="64.94" y="879.40" font-size="14.8" text-anchor="start" textLength="249.04" lengthAdjust="spacingAndGlyphs" fill="#1f1f1f" stroke="#1f1f1f" stroke-width="0.18">E. Precision-Recall Curve (Internal)</text>
<rect x="458.50" y="893.10" width="129.00" height="40.00" rx="2.5" fill="#ffffff" fill-opacity="0.8" stroke="#d6d6d6" stroke-width="1"/>
<path d="M462.10,902.75H488.90" stroke="#3172b2" stroke-width="2.2"/>
<text x="496.90" y="906.60" font-size="12.4" text-anchor="start" textLength="84.75" lengthAdjust="spacingAndGlyphs" fill="#1f1f1f" stroke="#1f1f1f" stroke-width="0.18">AUPRC = 0.64</text>
<rect x="463.30" y="917.50" width="25.0" height="8.2" fill="#d4e5f0" stroke="#b4d3e8" stroke-width="1"/>
<text x="496.90" y="924.40" font-size="12.4" text-anchor="start" textLength="42.41" lengthAdjust="spacingAndGlyphs" fill="#1f1f1f" stroke="#1f1f1f" stroke-width="0.18">95% CI</text>
<clipPath id="cF"><rect x="669.0" y="887.0" width="528.5" height="362.4000000000001"/></clipPath>
<path d="M696.5,902.7L721.7,902.7L723.4,914.4L729.9,912.8L733.9,922.6L743.7,942.9L751.8,951.0L759.2,948.6L763.2,963.2L774.6,970.6L788.5,969.0L795.8,970.6L799.0,978.7L810.4,982.8L818.6,998.2L826.7,1010.4L834.9,1020.2L843.0,1020.3L852.0,1027.0L864.0,1024.0L869.3,1030.8L880.5,1026.3L885.0,1033.0L895.5,1036.8L906.0,1047.3L921.8,1048.0L925.5,1056.3L942.0,1055.5L948.0,1065.3L955.0,1070.5L962.5,1069.0L973.0,1074.3L985.0,1072.8L994.0,1078.8L1012.0,1084.8L1016.5,1091.5L1040.0,1093.8L1051.3,1095.6L1065.0,1102.5L1081.3,1105.0L1096.3,1108.1L1102.5,1113.1L1121.3,1115.6L1130.0,1121.3L1136.3,1130.0L1142.5,1141.3L1152.5,1163.8L1160.0,1177.5L1167.5,1186.3L1168.1,1198.8L1173.5,1202.5L1173.5,1232.5L1170.0,1229.4L1161.3,1227.5L1148.8,1212.5L1135.0,1202.5L1128.8,1195.0L1123.8,1183.8L1113.8,1173.8L1105.0,1160.0L1100.0,1153.8L1080.0,1151.9L1063.8,1151.3L1056.3,1145.6L1040.0,1144.4L1024.0,1147.0L1015.0,1142.5L985.0,1141.0L976.0,1138.0L962.5,1134.3L955.0,1130.5L941.5,1129.8L928.0,1122.3L913.0,1123.0L905.5,1119.3L895.0,1114.8L886.0,1106.5L879.0,1106.5L867.0,1102.8L852.0,1104.3L841.4,1108.1L828.3,1101.6L813.7,1104.8L802.3,1096.7L789.3,1080.4L786.0,1069.0L773.0,1075.5L763.2,1074.7L754.3,1082.9L745.3,1070.7L738.8,1069.0L726.6,1095.1L724.2,1095.1L721.7,1082.1L714.4,1093.4L711.2,1108.1L706.3,1114.6L701.4,1163.4L696.5,902.7Z" fill="#f5e4d0" stroke="#f2d0ad" stroke-width="1" stroke-linejoin="round" clip-path="url(#cF)"/>
<path d="M693.50,887.00V1249.40M789.50,887.00V1249.40M885.50,887.00V1249.40M981.50,887.00V1249.40M1077.50,887.00V1249.40M1173.50,887.00V1249.40M669.00,1238.80H1197.50M669.00,1190.87H1197.50M669.00,1142.94H1197.50M669.00,1095.01H1197.50M669.00,1047.09H1197.50M669.00,999.16H1197.50M669.00,951.23H1197.50M669.00,903.30H1197.50" stroke="#b0b0b0" stroke-opacity="0.36" stroke-width="1" fill="none"/>
<path d="M691.6,902.7L704.6,902.7L704.6,1047.1L707.0,1025.0L711.2,1003.9L719.6,978.7L719.6,1017.0L726.6,997.4L733.1,985.2L733.1,1011.3L735.6,1004.7L736.4,1015.3L745.3,1001.5L745.3,1010.4L753.5,998.2L756.7,1005.6L761.6,1018.6L766.5,1012.1L768.1,1028.3L771.4,1025.1L772.2,1035.7L790.6,1016.1L797.4,1028.3L805.6,1025.1L806.4,1035.7L810.4,1046.2L814.5,1043.8L814.5,1053.6L825.1,1051.9L825.9,1064.2L839.7,1059.3L841.5,1069.8L849.8,1063.8L856.5,1068.3L870.8,1059.3L872.3,1064.5L880.5,1069.0L885.3,1066.8L890.5,1070.5L893.5,1081.8L904.0,1078.8L907.0,1086.3L919.0,1089.3L921.3,1096.0L928.0,1092.3L940.0,1101.3L951.3,1096.8L952.0,1101.3L961.0,1099.0L964.0,1105.0L973.0,1112.5L982.0,1110.3L983.5,1114.0L1000.0,1118.5L1007.5,1118.5L1020.3,1116.3L1033.0,1121.5L1046.3,1121.9L1048.1,1125.6L1057.5,1123.1L1063.1,1126.9L1070.0,1125.6L1083.8,1128.8L1088.8,1133.1L1108.8,1133.1L1109.4,1136.9L1118.8,1135.0L1120.6,1141.3L1123.1,1153.8L1126.3,1161.3L1132.5,1162.5L1137.5,1167.5L1138.1,1177.5L1140.0,1181.3L1145.0,1181.3L1150.0,1188.8L1153.8,1195.0L1159.4,1196.3L1163.1,1203.8L1163.1,1213.1L1172.5,1213.8L1173.5,1218.1" fill="none" stroke="#f06b1c" stroke-width="2.35" stroke-linejoin="round" clip-path="url(#cF)"/>
<rect x="669.00" y="887.00" width="528.50" height="362.40" fill="none" stroke="#2a2a2a" stroke-width="1.1"/>
<path d="M693.50,1249.40V1253.90M789.50,1249.40V1253.90M885.50,1249.40V1253.90M981.50,1249.40V1253.90M1077.50,1249.40V1253.90M1173.50,1249.40V1253.90M669.00,1238.80H664.40M669.00,1190.87H664.40M669.00,1142.94H664.40M669.00,1095.01H664.40M669.00,1047.09H664.40M669.00,999.16H664.40M669.00,951.23H664.40M669.00,903.30H664.40" stroke="#2a2a2a" stroke-width="1.1" fill="none"/>
<text x="693.50" y="1267.00" font-size="11.9" text-anchor="middle" textLength="17.18" lengthAdjust="spacingAndGlyphs" fill="#1f1f1f" stroke="#1f1f1f" stroke-width="0.18">0.0</text>
<text x="789.50" y="1267.00" font-size="11.9" text-anchor="middle" textLength="17.18" lengthAdjust="spacingAndGlyphs" fill="#1f1f1f" stroke="#1f1f1f" stroke-width="0.18">0.2</text>
<text x="885.50" y="1267.00" font-size="11.9" text-anchor="middle" textLength="17.18" lengthAdjust="spacingAndGlyphs" fill="#1f1f1f" stroke="#1f1f1f" stroke-width="0.18">0.4</text>
<text x="981.50" y="1267.00" font-size="11.9" text-anchor="middle" textLength="17.18" lengthAdjust="spacingAndGlyphs" fill="#1f1f1f" stroke="#1f1f1f" stroke-width="0.18">0.6</text>
<text x="1077.50" y="1267.00" font-size="11.9" text-anchor="middle" textLength="17.18" lengthAdjust="spacingAndGlyphs" fill="#1f1f1f" stroke="#1f1f1f" stroke-width="0.18">0.8</text>
<text x="1173.50" y="1267.00" font-size="11.9" text-anchor="middle" textLength="17.18" lengthAdjust="spacingAndGlyphs" fill="#1f1f1f" stroke="#1f1f1f" stroke-width="0.18">1.0</text>
<text x="659.00" y="1242.70" font-size="11.9" text-anchor="end" textLength="17.18" lengthAdjust="spacingAndGlyphs" fill="#1f1f1f" stroke="#1f1f1f" stroke-width="0.18">0.3</text>
<text x="659.00" y="1194.77" font-size="11.9" text-anchor="end" textLength="17.18" lengthAdjust="spacingAndGlyphs" fill="#1f1f1f" stroke="#1f1f1f" stroke-width="0.18">0.4</text>
<text x="659.00" y="1146.84" font-size="11.9" text-anchor="end" textLength="17.18" lengthAdjust="spacingAndGlyphs" fill="#1f1f1f" stroke="#1f1f1f" stroke-width="0.18">0.5</text>
<text x="659.00" y="1098.91" font-size="11.9" text-anchor="end" textLength="17.18" lengthAdjust="spacingAndGlyphs" fill="#1f1f1f" stroke="#1f1f1f" stroke-width="0.18">0.6</text>
<text x="659.00" y="1050.99" font-size="11.9" text-anchor="end" textLength="17.18" lengthAdjust="spacingAndGlyphs" fill="#1f1f1f" stroke="#1f1f1f" stroke-width="0.18">0.7</text>
<text x="659.00" y="1003.06" font-size="11.9" text-anchor="end" textLength="17.18" lengthAdjust="spacingAndGlyphs" fill="#1f1f1f" stroke="#1f1f1f" stroke-width="0.18">0.8</text>
<text x="659.00" y="955.13" font-size="11.9" text-anchor="end" textLength="17.18" lengthAdjust="spacingAndGlyphs" fill="#1f1f1f" stroke="#1f1f1f" stroke-width="0.18">0.9</text>
<text x="659.00" y="907.20" font-size="11.9" text-anchor="end" textLength="17.18" lengthAdjust="spacingAndGlyphs" fill="#1f1f1f" stroke="#1f1f1f" stroke-width="0.18">1.0</text>
<text x="933.25" y="1284.40" font-size="12.4" text-anchor="middle" textLength="35.80" lengthAdjust="spacingAndGlyphs" fill="#1f1f1f" stroke="#1f1f1f" stroke-width="0.18">Recall</text>
<text x="633.50" y="1068.20" font-size="12.4" text-anchor="middle" textLength="53.54" lengthAdjust="spacingAndGlyphs" fill="#1f1f1f" stroke="#1f1f1f" stroke-width="0.18" transform="rotate(-90 633.50 1068.20)">Precision</text>
<text x="669.00" y="879.40" font-size="14.8" text-anchor="start" textLength="250.16" lengthAdjust="spacingAndGlyphs" fill="#1f1f1f" stroke="#1f1f1f" stroke-width="0.18">F. Precision-Recall Curve (External)</text>
<rect x="1062.30" y="893.10" width="129.00" height="40.00" rx="2.5" fill="#ffffff" fill-opacity="0.8" stroke="#d6d6d6" stroke-width="1"/>
<path d="M1065.90,902.75H1092.70" stroke="#f06b1c" stroke-width="2.2"/>
<text x="1100.70" y="906.60" font-size="12.4" text-anchor="start" textLength="84.75" lengthAdjust="spacingAndGlyphs" fill="#1f1f1f" stroke="#1f1f1f" stroke-width="0.18">AUPRC = 0.62</text>
<rect x="1067.10" y="917.50" width="25.0" height="8.2" fill="#f5e4d0" stroke="#f2d0ad" stroke-width="1"/>
<text x="1100.70" y="924.40" font-size="12.4" text-anchor="start" textLength="42.41" lengthAdjust="spacingAndGlyphs" fill="#1f1f1f" stroke="#1f1f1f" stroke-width="0.18">95% CI</text>
<clipPath id="cG"><rect x="64.94" y="1319.9" width="528.76" height="362.89999999999986"/></clipPath>
<path d="M88.8,1303.0L105.3,1321.5L128.1,1344.9L148.7,1351.8L170.3,1360.5L209.3,1375.7L248.3,1385.4L289.5,1404.9L309.0,1421.2L347.0,1432.8L368.4,1442.9L388.6,1449.0L407.8,1459.3L428.0,1465.4L448.3,1481.1L468.5,1484.5L488.8,1496.9L509.0,1501.8L528.1,1513.3L549.5,1524.3L569.3,1526.6L569.3,1583.5L549.5,1574.5L528.1,1567.8L509.0,1556.5L488.8,1547.5L468.5,1537.4L448.3,1531.8L428.0,1525.0L407.8,1517.1L388.6,1509.3L368.4,1503.6L349.3,1493.5L309.5,1480.0L289.5,1464.5L248.3,1447.2L209.3,1434.2L170.3,1416.8L128.1,1402.8L107.5,1386.5L88.8,1364.8Z" fill="#d4e5f0" stroke="#b4d3e8" stroke-width="1" stroke-linejoin="round" clip-path="url(#cG)"/>
<path d="M79.00,1319.90V1682.80M177.08,1319.90V1682.80M275.16,1319.90V1682.80M373.24,1319.90V1682.80M471.32,1319.90V1682.80M569.40,1319.90V1682.80M64.94,1682.80H593.70M64.94,1622.88H593.70M64.94,1562.97H593.70M64.94,1503.05H593.70M64.94,1443.13H593.70M64.94,1383.22H593.70M64.94,1323.30H593.70" stroke="#b0b0b0" stroke-opacity="0.36" stroke-width="1" fill="none"/>
<path d="M88.8,1333.4L107.5,1357.3L128.1,1374.6L148.7,1381.1L170.3,1389.8L209.3,1406.0L231.0,1412.5L248.3,1418.6L289.5,1437.4L309.0,1451.1L329.0,1456.4L349.3,1464.3L368.4,1472.1L388.6,1478.9L407.8,1489.0L428.0,1496.9L448.3,1508.1L468.5,1513.8L488.8,1524.6L507.9,1530.0L528.1,1540.3L548.4,1548.6L569.3,1556.5" fill="none" stroke="#3172b2" stroke-width="2.35" stroke-linejoin="round" clip-path="url(#cG)"/>
<path d="M88.8,1335.6L92.8,1339.4L96.8,1343.2L100.8,1347.1L104.8,1350.9L108.8,1354.8L112.8,1358.8L116.8,1362.7L120.8,1366.7L124.9,1370.8L128.9,1374.8L132.9,1378.9L136.9,1383.1L140.9,1387.3L144.9,1391.5L148.9,1395.7L152.9,1400.0L156.9,1404.3L160.9,1408.7L164.9,1413.1L168.9,1417.6L172.9,1422.0L176.9,1426.6L180.9,1431.1L184.9,1435.7L188.9,1440.4L192.9,1445.1L196.9,1449.8L200.9,1454.6L205.0,1459.4L209.0,1464.3L213.0,1469.2L217.0,1474.2L221.0,1479.2L225.0,1484.3L229.0,1489.4L233.0,1494.5L237.0,1499.7L241.0,1505.0L245.0,1510.3L249.0,1515.7L253.0,1521.1L257.0,1526.5L261.0,1532.1L265.0,1537.7L269.0,1543.3L273.0,1549.0L277.0,1554.7L281.0,1560.6L285.0,1566.4L289.1,1572.4L293.1,1578.4L297.1,1584.4L301.1,1590.5L305.1,1596.7L309.1,1603.0L313.1,1609.3L317.1,1615.7L321.1,1622.1L325.1,1628.7L329.1,1635.3L333.1,1641.9L337.1,1648.7L341.1,1655.5L345.1,1662.4L349.1,1669.4L353.1,1676.4L357.1,1683.6L361.1,1690.8L365.1,1698.1L369.2,1705.5" fill="none" stroke="#000" stroke-width="1.8" stroke-linejoin="round" stroke-dasharray="6.6 2.9" clip-path="url(#cG)"/>
<path d="M88.8,1622.9L569.4,1622.9" fill="none" stroke="#000" stroke-width="1.8" stroke-linejoin="round" stroke-dasharray="1.8 2.9" clip-path="url(#cG)"/>
<rect x="64.94" y="1319.90" width="528.76" height="362.90" fill="none" stroke="#2a2a2a" stroke-width="1.1"/>
<path d="M79.00,1682.80V1687.30M177.08,1682.80V1687.30M275.16,1682.80V1687.30M373.24,1682.80V1687.30M471.32,1682.80V1687.30M569.40,1682.80V1687.30M64.94,1682.80H60.34M64.94,1622.88H60.34M64.94,1562.97H60.34M64.94,1503.05H60.34M64.94,1443.13H60.34M64.94,1383.22H60.34M64.94,1323.30H60.34" stroke="#2a2a2a" stroke-width="1.1" fill="none"/>
<text x="79.00" y="1700.40" font-size="11.9" text-anchor="middle" textLength="17.18" lengthAdjust="spacingAndGlyphs" fill="#1f1f1f" stroke="#1f1f1f" stroke-width="0.18">0.0</text>
<text x="177.08" y="1700.40" font-size="11.9" text-anchor="middle" textLength="17.18" lengthAdjust="spacingAndGlyphs" fill="#1f1f1f" stroke="#1f1f1f" stroke-width="0.18">0.1</text>
<text x="275.16" y="1700.40" font-size="11.9" text-anchor="middle" textLength="17.18" lengthAdjust="spacingAndGlyphs" fill="#1f1f1f" stroke="#1f1f1f" stroke-width="0.18">0.2</text>
<text x="373.24" y="1700.40" font-size="11.9" text-anchor="middle" textLength="17.18" lengthAdjust="spacingAndGlyphs" fill="#1f1f1f" stroke="#1f1f1f" stroke-width="0.18">0.3</text>
<text x="471.32" y="1700.40" font-size="11.9" text-anchor="middle" textLength="17.18" lengthAdjust="spacingAndGlyphs" fill="#1f1f1f" stroke="#1f1f1f" stroke-width="0.18">0.4</text>
<text x="569.40" y="1700.40" font-size="11.9" text-anchor="middle" textLength="17.18" lengthAdjust="spacingAndGlyphs" fill="#1f1f1f" stroke="#1f1f1f" stroke-width="0.18">0.5</text>
<text x="54.94" y="1686.70" font-size="11.9" text-anchor="end" textLength="33.10" lengthAdjust="spacingAndGlyphs" fill="#1f1f1f" stroke="#1f1f1f" stroke-width="0.18">−0.05</text>
<text x="54.94" y="1626.78" font-size="11.9" text-anchor="end" textLength="24.05" lengthAdjust="spacingAndGlyphs" fill="#1f1f1f" stroke="#1f1f1f" stroke-width="0.18">0.00</text>
<text x="54.94" y="1566.87" font-size="11.9" text-anchor="end" textLength="24.05" lengthAdjust="spacingAndGlyphs" fill="#1f1f1f" stroke="#1f1f1f" stroke-width="0.18">0.05</text>
<text x="54.94" y="1506.95" font-size="11.9" text-anchor="end" textLength="24.05" lengthAdjust="spacingAndGlyphs" fill="#1f1f1f" stroke="#1f1f1f" stroke-width="0.18">0.10</text>
<text x="54.94" y="1447.03" font-size="11.9" text-anchor="end" textLength="24.05" lengthAdjust="spacingAndGlyphs" fill="#1f1f1f" stroke="#1f1f1f" stroke-width="0.18">0.15</text>
<text x="54.94" y="1387.12" font-size="11.9" text-anchor="end" textLength="24.05" lengthAdjust="spacingAndGlyphs" fill="#1f1f1f" stroke="#1f1f1f" stroke-width="0.18">0.20</text>
<text x="54.94" y="1327.20" font-size="11.9" text-anchor="end" textLength="24.05" lengthAdjust="spacingAndGlyphs" fill="#1f1f1f" stroke="#1f1f1f" stroke-width="0.18">0.25</text>
<text x="329.32" y="1717.80" font-size="12.4" text-anchor="middle" textLength="126.39" lengthAdjust="spacingAndGlyphs" fill="#1f1f1f" stroke="#1f1f1f" stroke-width="0.18">Threshold Probability</text>
<text x="10.50" y="1501.35" font-size="12.4" text-anchor="middle" textLength="67.75" lengthAdjust="spacingAndGlyphs" fill="#1f1f1f" stroke="#1f1f1f" stroke-width="0.18" transform="rotate(-90 10.50 1501.35)">Net Benefit</text>
<text x="64.94" y="1312.30" font-size="14.8" text-anchor="start" textLength="263.90" lengthAdjust="spacingAndGlyphs" fill="#1f1f1f" stroke="#1f1f1f" stroke-width="0.18">G. Decision Curve Analysis (Internal)</text>
<rect x="477.70" y="1326.10" width="109.70" height="75.80" rx="2.5" fill="#ffffff" fill-opacity="0.8" stroke="#d6d6d6" stroke-width="1"/>
<path d="M481.50,1336.35H508.10" stroke="#3172b2" stroke-width="2.2"/>
<text x="517.20" y="1340.10" font-size="12.4" text-anchor="start" textLength="36.03" lengthAdjust="spacingAndGlyphs" fill="#1f1f1f" stroke="#1f1f1f" stroke-width="0.18">Model</text>
<rect x="482.50" y="1350.30" width="25.0" height="8.8" fill="#d4e5f0" stroke="#b4d3e8" stroke-width="1"/>
<text x="517.20" y="1358.75" font-size="12.4" text-anchor="start" textLength="42.41" lengthAdjust="spacingAndGlyphs" fill="#1f1f1f" stroke="#1f1f1f" stroke-width="0.18">95% CI</text>
<path d="M481.90,1372.50H506.70" stroke="#000" stroke-width="1.8" stroke-dasharray="6.6 2.9"/>
<text x="517.20" y="1376.00" font-size="12.4" text-anchor="start" textLength="48.37" lengthAdjust="spacingAndGlyphs" fill="#1f1f1f" stroke="#1f1f1f" stroke-width="0.18">Treat All</text>
<path d="M481.90,1391.10H506.70" stroke="#000" stroke-width="1.8" stroke-dasharray="1.8 2.9"/>
<text x="517.20" y="1394.70" font-size="12.4" text-anchor="start" textLength="64.80" lengthAdjust="spacingAndGlyphs" fill="#1f1f1f" stroke="#1f1f1f" stroke-width="0.18">Treat None</text>
<clipPath id="cH"><rect x="669.0" y="1319.9" width="528.5" height="362.89999999999986"/></clipPath>
<path d="M693.1,1305.0L701.7,1321.5L712.5,1329.1L732.0,1350.1L753.7,1359.4L773.2,1365.9L792.7,1371.8L831.7,1390.4L853.3,1396.9L879.3,1411.4L896.7,1422.3L920.0,1436.9L933.5,1445.9L976.3,1467.3L993.1,1477.4L1012.3,1498.8L1030.3,1506.6L1073.0,1527.6L1113.5,1542.6L1133.8,1544.9L1154.0,1555.0L1173.8,1565.8L1173.8,1613.5L1154.0,1598.9L1133.8,1596.6L1113.5,1594.4L1073.0,1579.8L1032.5,1560.6L1012.3,1552.8L993.1,1534.8L976.3,1526.9L953.8,1512.3L920.0,1494.3L893.4,1482.9L875.0,1471.0L853.3,1450.4L831.7,1443.9L792.7,1427.7L753.7,1412.5L732.0,1402.1L712.5,1378.9L693.1,1364.8Z" fill="#f5e4d0" stroke="#f2d0ad" stroke-width="1" stroke-linejoin="round" clip-path="url(#cH)"/>
<path d="M683.00,1319.90V1682.80M781.08,1319.90V1682.80M879.16,1319.90V1682.80M977.24,1319.90V1682.80M1075.32,1319.90V1682.80M1173.40,1319.90V1682.80M669.00,1682.80H1197.50M669.00,1637.89H1197.50M669.00,1592.97H1197.50M669.00,1548.06H1197.50M669.00,1503.15H1197.50M669.00,1458.24H1197.50M669.00,1413.33H1197.50M669.00,1368.41H1197.50M669.00,1323.50H1197.50" stroke="#b0b0b0" stroke-opacity="0.36" stroke-width="1" fill="none"/>
<path d="M693.1,1334.5L712.5,1349.2L732.0,1373.9L751.5,1382.6L773.2,1389.8L814.3,1408.2L853.3,1424.4L893.4,1447.3L920.0,1461.6L993.1,1503.3L1012.3,1522.4L1073.0,1550.5L1093.3,1557.7L1154.0,1574.1L1173.8,1588.8" fill="none" stroke="#f06b1c" stroke-width="2.35" stroke-linejoin="round" clip-path="url(#cH)"/>
<path d="M692.8,1336.1L696.8,1338.6L700.8,1341.1L704.8,1343.6L708.8,1346.1L712.8,1348.7L716.8,1351.2L720.8,1353.8L724.8,1356.5L728.9,1359.1L732.9,1361.8L736.9,1364.5L740.9,1367.2L744.9,1369.9L748.9,1372.7L752.9,1375.4L756.9,1378.3L760.9,1381.1L764.9,1383.9L768.9,1386.8L772.9,1389.7L776.9,1392.7L780.9,1395.6L784.9,1398.6L788.9,1401.6L792.9,1404.7L796.9,1407.8L800.9,1410.9L804.9,1414.0L809.0,1417.2L813.0,1420.3L817.0,1423.6L821.0,1426.8L825.0,1430.1L829.0,1433.4L833.0,1436.7L837.0,1440.1L841.0,1443.5L845.0,1447.0L849.0,1450.5L853.0,1454.0L857.0,1457.5L861.0,1461.1L865.0,1464.7L869.0,1468.4L873.0,1472.1L877.0,1475.8L881.0,1479.5L885.0,1483.4L889.0,1487.2L893.1,1491.1L897.1,1495.0L901.1,1499.0L905.1,1503.0L909.1,1507.0L913.1,1511.1L917.1,1515.3L921.1,1519.4L925.1,1523.7L929.1,1527.9L933.1,1532.3L937.1,1536.6L941.1,1541.1L945.1,1545.5L949.1,1550.0L953.1,1554.6L957.1,1559.2L961.1,1563.9L965.1,1568.6L969.1,1573.4L973.2,1578.2L977.2,1583.1L981.2,1588.1L985.2,1593.1L989.2,1598.1L993.2,1603.3L997.2,1608.5L1001.2,1613.7L1005.2,1619.0L1009.2,1624.4L1013.2,1629.9L1017.2,1635.4L1021.2,1640.9L1025.2,1646.6L1029.2,1652.3L1033.2,1658.1L1037.2,1664.0L1041.2,1669.9L1045.2,1676.0L1049.2,1682.1L1053.3,1688.2L1057.3,1694.5" fill="none" stroke="#000" stroke-width="1.8" stroke-linejoin="round" stroke-dasharray="6.6 2.9" clip-path="url(#cH)"/>
<path d="M692.8,1637.9L1173.4,1637.9" fill="none" stroke="#000" stroke-width="1.8" stroke-linejoin="round" stroke-dasharray="1.8 2.9" clip-path="url(#cH)"/>
<rect x="669.00" y="1319.90" width="528.50" height="362.90" fill="none" stroke="#2a2a2a" stroke-width="1.1"/>
<path d="M683.00,1682.80V1687.30M781.08,1682.80V1687.30M879.16,1682.80V1687.30M977.24,1682.80V1687.30M1075.32,1682.80V1687.30M1173.40,1682.80V1687.30M669.00,1682.80H664.40M669.00,1637.89H664.40M669.00,1592.97H664.40M669.00,1548.06H664.40M669.00,1503.15H664.40M669.00,1458.24H664.40M669.00,1413.33H664.40M669.00,1368.41H664.40M669.00,1323.50H664.40" stroke="#2a2a2a" stroke-width="1.1" fill="none"/>
<text x="683.00" y="1700.40" font-size="11.9" text-anchor="middle" textLength="17.18" lengthAdjust="spacingAndGlyphs" fill="#1f1f1f" stroke="#1f1f1f" stroke-width="0.18">0.0</text>
<text x="781.08" y="1700.40" font-size="11.9" text-anchor="middle" textLength="17.18" lengthAdjust="spacingAndGlyphs" fill="#1f1f1f" stroke="#1f1f1f" stroke-width="0.18">0.1</text>
<text x="879.16" y="1700.40" font-size="11.9" text-anchor="middle" textLength="17.18" lengthAdjust="spacingAndGlyphs" fill="#1f1f1f" stroke="#1f1f1f" stroke-width="0.18">0.2</text>
<text x="977.24" y="1700.40" font-size="11.9" text-anchor="middle" textLength="17.18" lengthAdjust="spacingAndGlyphs" fill="#1f1f1f" stroke="#1f1f1f" stroke-width="0.18">0.3</text>
<text x="1075.32" y="1700.40" font-size="11.9" text-anchor="middle" textLength="17.18" lengthAdjust="spacingAndGlyphs" fill="#1f1f1f" stroke="#1f1f1f" stroke-width="0.18">0.4</text>
<text x="1173.40" y="1700.40" font-size="11.9" text-anchor="middle" textLength="17.18" lengthAdjust="spacingAndGlyphs" fill="#1f1f1f" stroke="#1f1f1f" stroke-width="0.18">0.5</text>
<text x="659.00" y="1686.70" font-size="11.9" text-anchor="end" textLength="33.10" lengthAdjust="spacingAndGlyphs" fill="#1f1f1f" stroke="#1f1f1f" stroke-width="0.18">−0.05</text>
<text x="659.00" y="1641.79" font-size="11.9" text-anchor="end" textLength="24.05" lengthAdjust="spacingAndGlyphs" fill="#1f1f1f" stroke="#1f1f1f" stroke-width="0.18">0.00</text>
<text x="659.00" y="1596.88" font-size="11.9" text-anchor="end" textLength="24.05" lengthAdjust="spacingAndGlyphs" fill="#1f1f1f" stroke="#1f1f1f" stroke-width="0.18">0.05</text>
<text x="659.00" y="1551.96" font-size="11.9" text-anchor="end" textLength="24.05" lengthAdjust="spacingAndGlyphs" fill="#1f1f1f" stroke="#1f1f1f" stroke-width="0.18">0.10</text>
<text x="659.00" y="1507.05" font-size="11.9" text-anchor="end" textLength="24.05" lengthAdjust="spacingAndGlyphs" fill="#1f1f1f" stroke="#1f1f1f" stroke-width="0.18">0.15</text>
<text x="659.00" y="1462.14" font-size="11.9" text-anchor="end" textLength="24.05" lengthAdjust="spacingAndGlyphs" fill="#1f1f1f" stroke="#1f1f1f" stroke-width="0.18">0.20</text>
<text x="659.00" y="1417.23" font-size="11.9" text-anchor="end" textLength="24.05" lengthAdjust="spacingAndGlyphs" fill="#1f1f1f" stroke="#1f1f1f" stroke-width="0.18">0.25</text>
<text x="659.00" y="1372.31" font-size="11.9" text-anchor="end" textLength="24.05" lengthAdjust="spacingAndGlyphs" fill="#1f1f1f" stroke="#1f1f1f" stroke-width="0.18">0.30</text>
<text x="659.00" y="1327.40" font-size="11.9" text-anchor="end" textLength="24.05" lengthAdjust="spacingAndGlyphs" fill="#1f1f1f" stroke="#1f1f1f" stroke-width="0.18">0.35</text>
<text x="933.25" y="1717.80" font-size="12.4" text-anchor="middle" textLength="126.39" lengthAdjust="spacingAndGlyphs" fill="#1f1f1f" stroke="#1f1f1f" stroke-width="0.18">Threshold Probability</text>
<text x="614.50" y="1501.35" font-size="12.4" text-anchor="middle" textLength="67.75" lengthAdjust="spacingAndGlyphs" fill="#1f1f1f" stroke="#1f1f1f" stroke-width="0.18" transform="rotate(-90 614.50 1501.35)">Net Benefit</text>
<text x="669.00" y="1312.30" font-size="14.8" text-anchor="start" textLength="267.57" lengthAdjust="spacingAndGlyphs" fill="#1f1f1f" stroke="#1f1f1f" stroke-width="0.18">H. Decision Curve Analysis (External)</text>
<rect x="1081.50" y="1326.10" width="109.70" height="75.80" rx="2.5" fill="#ffffff" fill-opacity="0.8" stroke="#d6d6d6" stroke-width="1"/>
<path d="M1085.30,1336.35H1111.90" stroke="#f06b1c" stroke-width="2.2"/>
<text x="1121.00" y="1340.10" font-size="12.4" text-anchor="start" textLength="36.03" lengthAdjust="spacingAndGlyphs" fill="#1f1f1f" stroke="#1f1f1f" stroke-width="0.18">Model</text>
<rect x="1086.30" y="1350.30" width="25.0" height="8.8" fill="#f5e4d0" stroke="#f2d0ad" stroke-width="1"/>
<text x="1121.00" y="1358.75" font-size="12.4" text-anchor="start" textLength="42.41" lengthAdjust="spacingAndGlyphs" fill="#1f1f1f" stroke="#1f1f1f" stroke-width="0.18">95% CI</text>
<path d="M1085.70,1372.50H1110.50" stroke="#000" stroke-width="1.8" stroke-dasharray="6.6 2.9"/>
<text x="1121.00" y="1376.00" font-size="12.4" text-anchor="start" textLength="48.37" lengthAdjust="spacingAndGlyphs" fill="#1f1f1f" stroke="#1f1f1f" stroke-width="0.18">Treat All</text>
<path d="M1085.70,1391.10H1110.50" stroke="#000" stroke-width="1.8" stroke-dasharray="1.8 2.9"/>
<text x="1121.00" y="1394.70" font-size="12.4" text-anchor="start" textLength="64.80" lengthAdjust="spacingAndGlyphs" fill="#1f1f1f" stroke="#1f1f1f" stroke-width="0.18">Treat None</text>
</svg></body></html>
